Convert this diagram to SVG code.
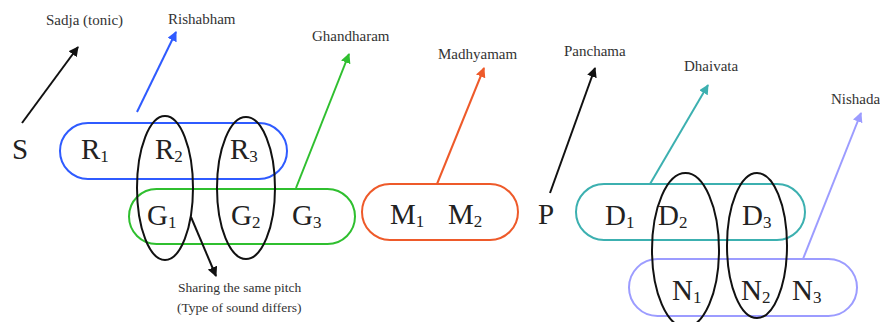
<svg xmlns="http://www.w3.org/2000/svg" width="880" height="322" viewBox="0 0 880 322">
<style>
.pill{fill:none;stroke-width:2}
.ell{fill:none;stroke:#111;stroke-width:2}
.big{font-family:"Liberation Serif",serif;font-size:29px;fill:#222}
.sub{font-size:17px}
.lbl{font-family:"Liberation Serif",serif;font-size:15px;fill:#333}
.lbl2{font-family:"Liberation Serif",serif;font-size:13.5px;fill:#333}
.arr{stroke-width:2;fill:none}
</style>
<defs>
<marker id="mBlack" viewBox="0 0 10 10" refX="9" refY="5" markerWidth="5" markerHeight="5" orient="auto" markerUnits="strokeWidth"><path d="M0,0 L10,5 L0,10 z" fill="#111"/></marker>
<marker id="mBlue" viewBox="0 0 10 10" refX="9" refY="5" markerWidth="5" markerHeight="5" orient="auto" markerUnits="strokeWidth"><path d="M0,0 L10,5 L0,10 z" fill="#2f5bff"/></marker>
<marker id="mGreen" viewBox="0 0 10 10" refX="9" refY="5" markerWidth="5" markerHeight="5" orient="auto" markerUnits="strokeWidth"><path d="M0,0 L10,5 L0,10 z" fill="#2fbf2f"/></marker>
<marker id="mOrange" viewBox="0 0 10 10" refX="9" refY="5" markerWidth="5" markerHeight="5" orient="auto" markerUnits="strokeWidth"><path d="M0,0 L10,5 L0,10 z" fill="#ee5a2a"/></marker>
<marker id="mTeal" viewBox="0 0 10 10" refX="9" refY="5" markerWidth="5" markerHeight="5" orient="auto" markerUnits="strokeWidth"><path d="M0,0 L10,5 L0,10 z" fill="#3cb0b0"/></marker>
<marker id="mLav" viewBox="0 0 10 10" refX="9" refY="5" markerWidth="5" markerHeight="5" orient="auto" markerUnits="strokeWidth"><path d="M0,0 L10,5 L0,10 z" fill="#9c9cff"/></marker>
</defs>
<rect width="880" height="322" fill="#fff"/>

<g id="S"><text class="big" x="12" y="159">S</text></g>

<g id="R-group">
<rect class="pill" x="60" y="123" width="227" height="56" rx="28" stroke="#2f5bff"/>
<text class="big" x="81" y="159">R<tspan class="sub" dy="3">1</tspan></text>
<text class="big" x="155" y="159">R<tspan class="sub" dy="3">2</tspan></text>
<text class="big" x="230" y="159">R<tspan class="sub" dy="3">3</tspan></text>
</g>

<g id="G-group">
<rect class="pill" x="129" y="189" width="226" height="55" rx="27.5" stroke="#2fbf2f"/>
<text class="big" x="147" y="225">G<tspan class="sub" dy="3">1</tspan></text>
<text class="big" x="231" y="225">G<tspan class="sub" dy="3">2</tspan></text>
<text class="big" x="292" y="225">G<tspan class="sub" dy="3">3</tspan></text>
</g>

<g id="M-group">
<rect class="pill" x="362" y="184" width="156" height="56" rx="28" stroke="#ee5a2a"/>
<text class="big" x="390" y="224">M<tspan class="sub" dy="3">1</tspan></text>
<text class="big" x="448" y="224">M<tspan class="sub" dy="3">2</tspan></text>
</g>

<g id="P"><text class="big" x="538" y="224">P</text></g>

<g id="D-group">
<rect class="pill" x="576" y="184" width="229" height="56" rx="28" stroke="#3cb0b0"/>
<text class="big" x="605" y="225">D<tspan class="sub" dy="3">1</tspan></text>
<text class="big" x="658" y="225">D<tspan class="sub" dy="3">2</tspan></text>
<text class="big" x="742" y="225">D<tspan class="sub" dy="3">3</tspan></text>
</g>

<g id="N-group">
<rect class="pill" x="629" y="259" width="228" height="57" rx="28.5" stroke="#9c9cff"/>
<text class="big" x="672" y="300">N<tspan class="sub" dy="3">1</tspan></text>
<text class="big" x="741" y="300">N<tspan class="sub" dy="3">2</tspan></text>
<text class="big" x="792" y="300">N<tspan class="sub" dy="3">3</tspan></text>
</g>

<g id="shared-pitch">
<ellipse class="ell" cx="165" cy="188" rx="28" ry="72"/>
<ellipse class="ell" cx="246" cy="188" rx="29" ry="71"/>
<ellipse class="ell" cx="685.5" cy="250" rx="33.5" ry="77"/>
<ellipse class="ell" cx="757" cy="245.5" rx="30" ry="72.5"/>
</g>

<g id="labels">
<text class="lbl" x="46" y="25">Sadja (tonic)</text>
<text class="lbl" x="168" y="24">Rishabham</text>
<text class="lbl" x="312" y="41">Ghandharam</text>
<text class="lbl" x="438" y="59">Madhyamam</text>
<text class="lbl" x="564" y="56">Panchama</text>
<text class="lbl" x="684" y="71">Dhaivata</text>
<text class="lbl" x="831" y="104">Nishada</text>
<text class="lbl2" x="178" y="292">Sharing the same pitch</text>
<text class="lbl2" x="177" y="312">(Type of sound differs)</text>
</g>

<g id="connectors">
<line class="arr" x1="22" y1="123" x2="78" y2="47" stroke="#111" marker-end="url(#mBlack)"/>
<line class="arr" x1="137" y1="112" x2="176" y2="32" stroke="#2f5bff" marker-end="url(#mBlue)"/>
<line class="arr" x1="296" y1="188" x2="349" y2="54" stroke="#2fbf2f" marker-end="url(#mGreen)"/>
<line class="arr" x1="437" y1="184" x2="484" y2="68" stroke="#ee5a2a" marker-end="url(#mOrange)"/>
<line class="arr" x1="550" y1="193" x2="595" y2="68" stroke="#111" marker-end="url(#mBlack)"/>
<line class="arr" x1="650" y1="184" x2="708" y2="85" stroke="#3cb0b0" marker-end="url(#mTeal)"/>
<line class="arr" x1="803" y1="259" x2="861" y2="113" stroke="#9c9cff" marker-end="url(#mLav)"/>
<line class="arr" x1="191" y1="217" x2="216" y2="276" stroke="#111" marker-end="url(#mBlack)"/>
</g>
</svg>
